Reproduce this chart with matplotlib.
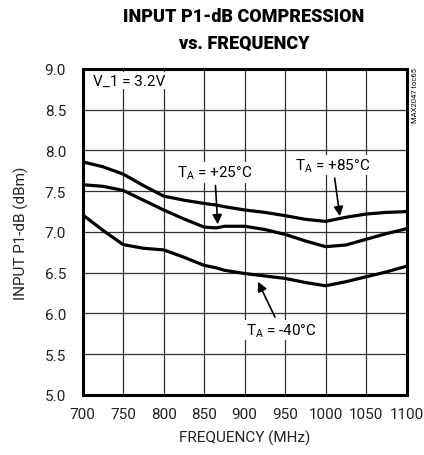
import numpy as np
import matplotlib
matplotlib.use('Agg')
import matplotlib.pyplot as plt

FREQ = [700, 725, 750, 775, 800, 825, 850, 865, 875, 900, 925, 950, 975, 1000, 1025, 1050, 1075, 1100]
P1DB_85 = [7.86, 7.80, 7.71, 7.57, 7.44, 7.39, 7.35, 7.33, 7.31, 7.27, 7.24, 7.20, 7.155, 7.13, 7.18, 7.22, 7.24, 7.25]
P1DB_25 = [7.58, 7.56, 7.51, 7.39, 7.27, 7.16, 7.06, 7.05, 7.07, 7.07, 7.03, 6.97, 6.89, 6.82, 6.84, 6.91, 6.98, 7.04]
P1DB_M40 = [7.21, 7.02, 6.845, 6.80, 6.78, 6.69, 6.59, 6.56, 6.53, 6.49, 6.46, 6.43, 6.38, 6.34, 6.39, 6.45, 6.51, 6.58]

X_TICKS = [700, 750, 800, 850, 900, 950, 1000, 1050, 1100]
Y_TICKS = [5.0, 5.5, 6.0, 6.5, 7.0, 7.5, 8.0, 8.5, 9.0]

plt.rcParams['font.family'] = ['Roboto', 'DejaVu Sans']
plt.rcParams['mathtext.fontset'] = 'custom'
plt.rcParams['mathtext.rm'] = 'Roboto'

fig = plt.figure(figsize=(4.24, 4.56), dpi=100)
ax = fig.add_axes([0.195, 0.1316, 0.764, 0.715])

for series in (P1DB_85, P1DB_25, P1DB_M40):
    ax.plot(FREQ, series, color='black', lw=2.3, solid_capstyle='round', zorder=3)

ax.set_xlim(700, 1100)
ax.set_ylim(5.0, 9.0)
ax.set_xticks(X_TICKS)
ax.set_yticks(Y_TICKS)
ax.set_yticklabels(['%.1f' % v for v in Y_TICKS])
ax.tick_params(length=0, labelsize=11, colors='#222222')
ax.tick_params(axis='x', pad=9)
ax.tick_params(axis='y', pad=12)
ax.grid(True, color='#333333', lw=0.9)
for s in ax.spines.values():
    s.set_linewidth(2.2)

ax.set_xlabel('FREQUENCY (MHz)', fontsize=11, color='#222222', labelpad=6)
ax.set_ylabel('INPUT P1-dB (dBm)', fontsize=11, color='#222222', labelpad=11)

fig.text(0.575, 0.962, 'INPUT P1-dB COMPRESSION', ha='center', va='center',
         fontsize=13, fontweight='heavy')
fig.text(0.575, 0.905, 'vs. FREQUENCY', ha='center', va='center',
         fontsize=13, fontweight='heavy')
fig.text(0.979, 0.79, 'MAX2047 toc65', rotation=90, ha='center', va='center', fontsize=5.5)

ax.text(713, 8.86, 'V_1 = 3.2V', fontsize=11, va='center', ha='left',
        bbox=dict(fc='white', ec='none', pad=1))

arrow = dict(arrowstyle='-|>', color='black', lw=1.2, mutation_scale=14)
label = r'T$_\mathregular{A}$ = %s°C'
ax.annotate(label % '+25', xy=(867, 7.06), xytext=(863, 7.73),
            fontsize=11, ha='center', va='center', arrowprops=arrow,
            bbox=dict(fc='white', ec='none', pad=1))
ax.annotate(label % '+85', xy=(1018, 7.16), xytext=(1009, 7.82),
            fontsize=11, ha='center', va='center', arrowprops=arrow,
            bbox=dict(fc='white', ec='none', pad=1))
ax.annotate(label % '-40', xy=(915, 6.42), xytext=(945, 5.80),
            fontsize=11, ha='center', va='center', arrowprops=arrow,
            bbox=dict(fc='white', ec='none', pad=1))

fig.savefig('out.png', dpi=100)
